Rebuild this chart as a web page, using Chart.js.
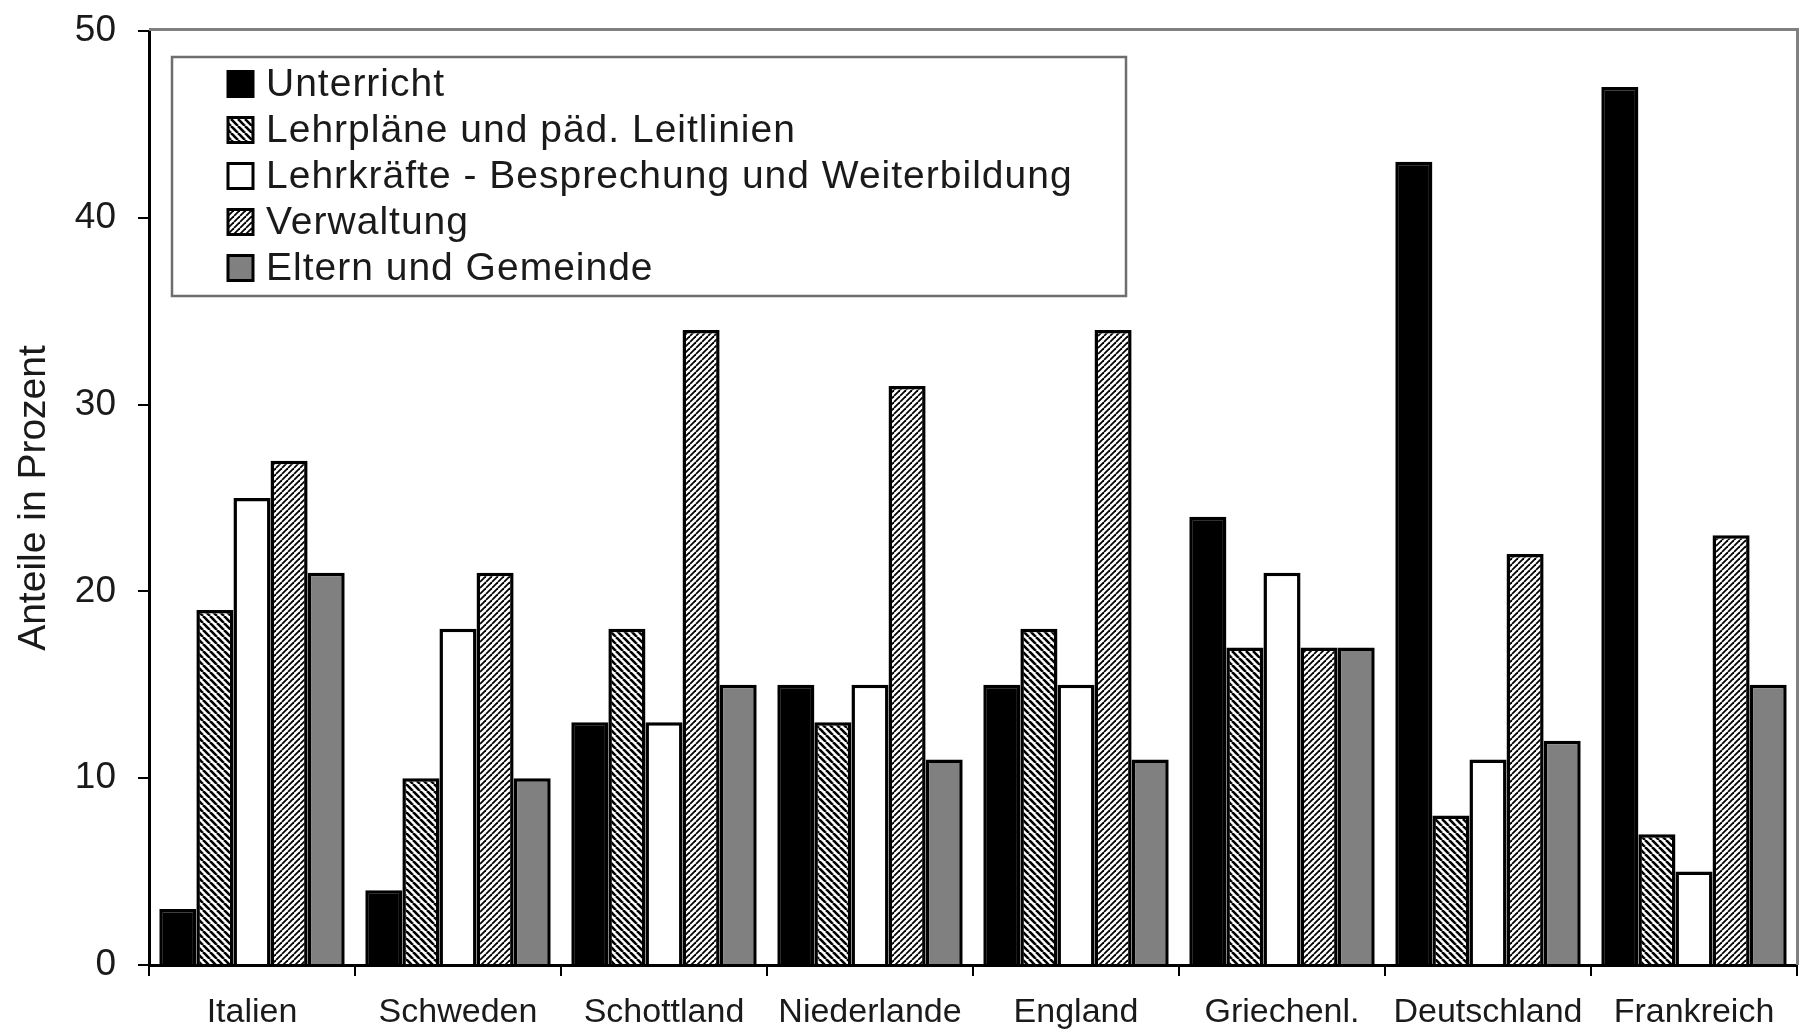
<!DOCTYPE html>
<html lang="de">
<head>
<meta charset="utf-8">
<title>Anteile in Prozent</title>
<script src="https://cdn.jsdelivr.net/npm/chart.js@4.4.1/dist/chart.umd.min.js"></script>
<style>
  html, body { margin: 0; padding: 0; background: #fff; }
  #wrap { width: 1799px; height: 1029px; }
</style>
</head>
<body>
<div id="wrap"><canvas id="chart" width="1799" height="1029"></canvas></div>
<script>
const categories = ['Italien', 'Schweden', 'Schottland', 'Niederlande', 'England', 'Griechenl.', 'Deutschland', 'Frankreich'];
const seriesNames = ['Unterricht', 'Lehrpläne und päd. Leitlinien', 'Lehrkräfte - Besprechung und Weiterbildung', 'Verwaltung', 'Eltern und Gemeinde'];
const unterricht  = [3, 4, 13, 15, 15, 24, 43, 47];
const lehrplaene  = [19, 10, 18, 13, 18, 17, 8, 7];
const lehrkraefte = [25, 18, 13, 15, 15, 21, 11, 5];
const verwaltung  = [27, 21, 34, 31, 34, 17, 22, 23];
const eltern      = [21, 10, 15, 11, 11, 17, 12, 15];
const yMin = 0, yMax = 50, yStep = 10;

const FONT = '"Liberation Sans", Arial, sans-serif';
const TEXT = '#1a1a1a';

const canvas = document.getElementById('chart');
const ctx = canvas.getContext('2d');

// diagonal hatch fill, dir '\\' or '/'
function hatch(dir, lw, size) {
  const c = document.createElement('canvas');
  c.width = c.height = size;
  const x = c.getContext('2d');
  x.fillStyle = '#fff';
  x.fillRect(0, 0, size, size);
  x.strokeStyle = '#000';
  x.lineWidth = lw;
  for (const o of [-size, 0, size]) {
    x.beginPath();
    if (dir === '\\') { x.moveTo(o, 0); x.lineTo(o + size, size); }
    else { x.moveTo(o, size); x.lineTo(o + size, 0); }
    x.stroke();
  }
  return ctx.createPattern(c, 'repeat');
}

const fills = ['#000', hatch('\\', 2.6, 7), '#fff', hatch('/', 1.8, 6), '#808080'];
const values = [unterricht, lehrplaene, lehrkraefte, verwaltung, eltern];

// legend box inside the plot area + gray frame top/right
const boxLegend = {
  id: 'boxLegend',
  afterDatasetsDraw(chart) {
    const { ctx, chartArea } = chart;
    ctx.save();
    // plot frame (top and right, gray)
    ctx.strokeStyle = '#808080';
    ctx.lineWidth = 3;
    ctx.beginPath();
    ctx.moveTo(chartArea.left, chartArea.top - 1.5);
    ctx.lineTo(chartArea.right + 0.5, chartArea.top - 1.5);
    ctx.lineTo(chartArea.right + 0.5, chartArea.bottom);
    ctx.stroke();

    const bx = chartArea.left + 23, by = chartArea.top + 26, bw = 954, bh = 239;
    ctx.fillStyle = '#fff';
    ctx.fillRect(bx, by, bw, bh);
    ctx.strokeStyle = '#6e6e6e';
    ctx.lineWidth = 2.5;
    ctx.strokeRect(bx, by, bw, bh);

    ctx.font = '39px ' + FONT;
    ctx.letterSpacing = '1px';
    ctx.textBaseline = 'middle';
    chart.data.datasets.forEach((ds, i) => {
      const cy = by + 27 + i * 46;
      const sx = bx + 56, s = 25;
      ctx.fillStyle = ds.backgroundColor;
      ctx.fillRect(sx, cy - s / 2, s, s);
      ctx.strokeStyle = '#000';
      ctx.lineWidth = 3;
      ctx.strokeRect(sx, cy - s / 2, s, s);
      ctx.fillStyle = TEXT;
      ctx.fillText(ds.label, bx + 94, cy + 1);
    });
    ctx.restore();
  }
};

new Chart(canvas, {
  type: 'bar',
  data: {
    labels: categories,
    datasets: seriesNames.map((name, i) => ({
      label: name,
      data: values[i],
      backgroundColor: fills[i],
      borderColor: '#000',
      borderWidth: 3.5,
      borderSkipped: 'bottom',
      categoryPercentage: 0.9,
      barPercentage: 1.0
    }))
  },
  options: {
    responsive: false,
    animation: false,
    devicePixelRatio: 1,
    layout: { padding: { top: 31, right: 2, left: 0, bottom: 0 } },
    plugins: { legend: { display: false }, tooltip: { enabled: false } },
    scales: {
      x: {
        afterFit: s => { s.height = 64; },
        grid: { display: true, drawOnChartArea: false, drawTicks: true, tickLength: 11, color: '#000', lineWidth: 2, offset: true },
        border: { color: '#000', width: 3 },
        ticks: { color: TEXT, font: { family: FONT, size: 34 }, padding: 16, maxRotation: 0, autoSkip: false }
      },
      y: {
        min: yMin, max: yMax,
        afterFit: s => { s.width = 149; s.paddingTop = 0; s.paddingBottom = 0; },
        grid: { display: true, drawOnChartArea: false, drawTicks: true, tickLength: 11, color: '#000', lineWidth: 2 },
        border: { color: '#000', width: 3 },
        ticks: { stepSize: yStep, color: TEXT, font: { family: FONT, size: 37 }, padding: 22 },
        title: { display: true, text: 'Anteile in Prozent', color: TEXT, font: { family: FONT, size: 39 }, padding: { top: 11, bottom: 0 } }
      }
    }
  },
  plugins: [boxLegend]
});
</script>
</body>
</html>
